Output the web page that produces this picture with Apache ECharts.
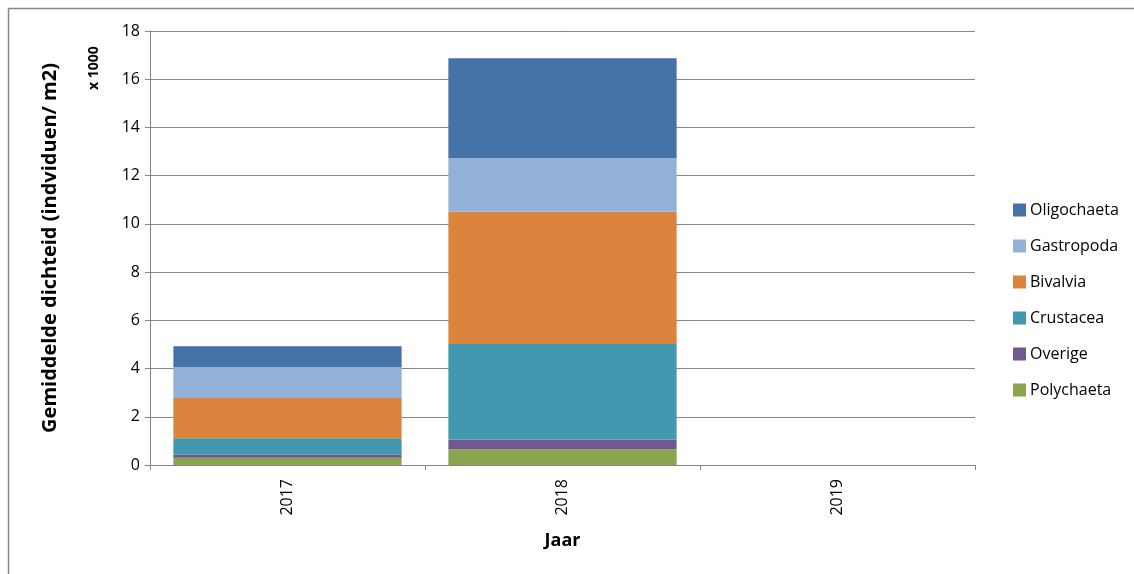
<!DOCTYPE html>
<html>
<head>
<meta charset="utf-8">
<script src="https://cdn.jsdelivr.net/npm/echarts@6/dist/echarts.min.js"></script>
<style>
  html, body { margin: 0; padding: 0; background: #fff; }
  #chart { width: 1134px; height: 574px; }
</style>
</head>
<body>
<div id="chart"></div>
<script>
// data (x 1000 individuals / m2)
var years = ['2017', '2018', '2019'];
var polychaeta = [0.30, 0.65, 0];
var overige = [0.13, 0.40, 0];
var crustacea = [0.68, 3.97, 0];
var bivalvia = [1.67, 5.48, 0];
var gastropoda = [1.27, 2.23, 0];
var oligochaeta = [0.87, 4.14, 0];

var font = 'Open Sans';
var chart = echarts.init(document.getElementById('chart'));

function bar(name, data, color) {
  return {
    name: name,
    type: 'bar',
    stack: 'total',
    data: data,
    barCategoryGap: '17%',
    itemStyle: { color: color },
    emphasis: { disabled: true }
  };
}

chart.setOption({
  animation: false,
  backgroundColor: '#fff',
  textStyle: { fontFamily: font },
  grid: { left: 150, right: 159, top: 31, bottom: 109 },
  legend: {
    orient: 'vertical',
    left: 1008,
    top: 197,
    icon: 'rect',
    itemWidth: 13,
    itemHeight: 13,
    itemGap: 20,
    data: ['Oligochaeta', 'Gastropoda', 'Bivalvia', 'Crustacea', 'Overige', 'Polychaeta'],
    textStyle: { fontFamily: font, fontSize: 16, lineHeight: 16, color: '#000', padding: [0, 0, 0, -1] }
  },
  xAxis: {
    type: 'category',
    data: years,
    name: 'Jaar',
    nameLocation: 'middle',
    nameGap: 67,
    nameTextStyle: { fontFamily: font, fontSize: 18, fontWeight: 'bold', color: '#000' },
    axisLine: { lineStyle: { color: '#868686' } },
    axisTick: { show: true, length: 5, lineStyle: { color: '#868686' } },
    axisLabel: { rotate: 90, fontSize: 16, color: '#000', margin: 14 }
  },
  yAxis: {
    type: 'value',
    min: 0,
    max: 18,
    interval: 2,
    name: 'Gemiddelde dichteid (indviduen/ m2)',
    nameLocation: 'middle',
    nameGap: 90,
    nameTextStyle: { fontFamily: font, fontSize: 20, fontWeight: 'bold', color: '#000' },
    axisLine: { show: true, lineStyle: { color: '#868686' } },
    axisTick: { show: true, length: 5, lineStyle: { color: '#868686' } },
    axisLabel: { fontSize: 16, color: '#000', margin: 10 },
    splitLine: { lineStyle: { color: '#868686' } }
  },
  graphic: [
    {
      type: 'rect',
      shape: { x: 8.5, y: 8.5, width: 1300, height: 800 },
      style: { fill: 'none', stroke: '#868686', lineWidth: 1.5 },
      silent: true
    },
    {
      type: 'text',
      x: 94,
      y: 68,
      rotation: Math.PI / 2,
      style: {
        text: 'x 1000',
        font: 'bold 14px "Open Sans"',
        fill: '#000',
        align: 'center',
        verticalAlign: 'middle'
      }
    }
  ],
  series: [
    bar('Polychaeta', polychaeta, '#89A54E'),
    bar('Overige', overige, '#71588F'),
    bar('Crustacea', crustacea, '#4198AF'),
    bar('Bivalvia', bivalvia, '#DB843D'),
    bar('Gastropoda', gastropoda, '#93B1D6'),
    bar('Oligochaeta', oligochaeta, '#4572A7')
  ]
});
</script>
</body>
</html>
